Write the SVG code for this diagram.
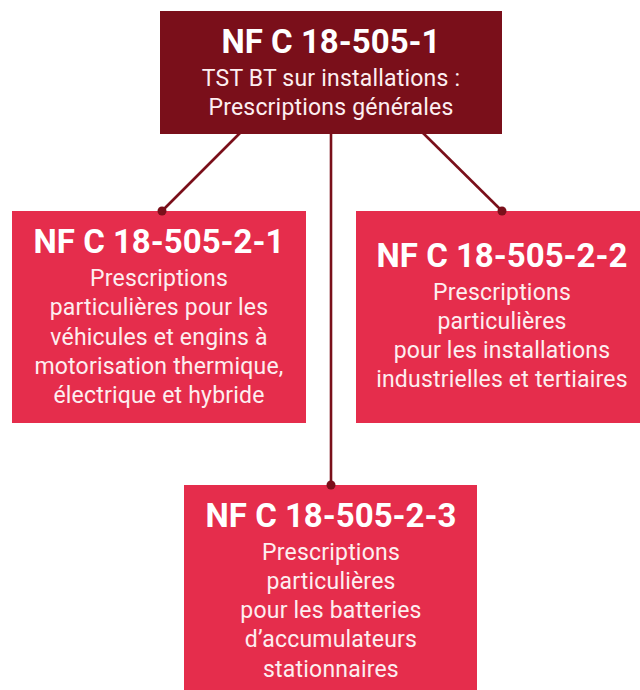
<svg xmlns="http://www.w3.org/2000/svg" width="640" height="690" viewBox="0 0 640 690">
<style>
.top{fill:#7a0f1a}
.box{fill:#e52d4c}
.title{font-family:Roboto,"Liberation Sans",sans-serif;font-weight:bold;font-size:33px;fill:#fff;text-anchor:middle}
.body{font-family:Roboto,"Liberation Sans",sans-serif;font-size:23px;letter-spacing:0.2px;fill:#fdeef0;text-anchor:middle}
.line{stroke:#7a0f1a;stroke-width:2.6;fill:none}
.dot{fill:#7a0f1a}
</style>
<rect width="640" height="690" fill="#fff"/>
<g id="connectors">
<line class="line" x1="240" y1="133" x2="162" y2="211"/>
<line class="line" x1="423" y1="133" x2="502" y2="211"/>
<line class="line" x1="331" y1="133" x2="331" y2="485"/>
</g>
<g id="n1">
<rect class="top" x="160" y="11" width="342" height="123"/>
<text class="title" x="331" y="53">NF C 18-505-1</text>
<text class="body" x="331" y="86">TST BT sur installations :</text>
<text class="body" x="331" y="114.5">Prescriptions générales</text>
</g>
<g id="n21">
<rect class="box" x="12" y="211" width="294" height="212"/>
<text class="title" x="159" y="253">NF C 18-505-2-1</text>
<text class="body" x="159" y="286">Prescriptions</text>
<text class="body" x="159" y="315">particulières pour les</text>
<text class="body" x="159" y="344.5">véhicules et engins à</text>
<text class="body" x="159" y="374">motorisation thermique,</text>
<text class="body" x="159" y="403">électrique et hybride</text>
</g>
<g id="n22">
<rect class="box" x="356" y="211" width="284" height="212"/>
<text class="title" x="502" y="267">NF C 18-505-2-2</text>
<text class="body" x="502" y="300">Prescriptions</text>
<text class="body" x="502" y="329">particulières</text>
<text class="body" x="502" y="358">pour les installations</text>
<text class="body" x="502" y="387">industrielles et tertiaires</text>
</g>
<g id="n23">
<rect class="box" x="184" y="485" width="293" height="205"/>
<text class="title" x="331" y="527">NF C 18-505-2-3</text>
<text class="body" x="331" y="560">Prescriptions</text>
<text class="body" x="331" y="589">particulières</text>
<text class="body" x="331" y="618">pour les batteries</text>
<text class="body" x="331" y="647">d’accumulateurs</text>
<text class="body" x="331" y="677">stationnaires</text>
</g>
<g id="dots">
<circle class="dot" cx="162" cy="211" r="4.5"/>
<circle class="dot" cx="502" cy="211" r="4.5"/>
<circle class="dot" cx="331" cy="485" r="4.5"/>
</g>
</svg>
